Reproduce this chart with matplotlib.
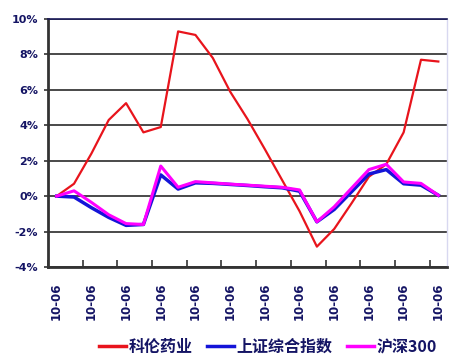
import matplotlib
matplotlib.use("Agg")
import matplotlib.pyplot as plt
import numpy as np

plt.rcParams['font.family'] = ['Noto Sans CJK SC', 'DejaVu Sans']

# ---- data (percent) ----
x_labels = ["10-06"] * 12
kelun = [0.0, 0.7, 2.4, 4.3, 5.25, 3.6, 3.9, 9.3, 9.1, 7.8, 5.9, 4.35,
         2.65, 0.9, -0.85, -2.85, -1.85, -0.4, 1.1, 1.8, 3.6, 7.7, 7.6]
shanghai = [0.0, -0.05, -0.65, -1.2, -1.65, -1.6, 1.2, 0.4, 0.75, 0.72, 0.66, 0.6,
            0.53, 0.47, 0.28, -1.45, -0.75, 0.25, 1.25, 1.5, 0.7, 0.62, 0.05]
hs300 = [0.0, 0.3, -0.35, -1.05, -1.55, -1.6, 1.7, 0.5, 0.82, 0.75, 0.68, 0.62,
         0.56, 0.5, 0.35, -1.45, -0.6, 0.45, 1.5, 1.8, 0.8, 0.72, 0.05]
series_names = ["科伦药业", "上证综合指数", "沪深300"]
y_ticks = [-4, -2, 0, 2, 4, 6, 8, 10]

navy = '#141464'

fig = plt.figure(figsize=(4.49, 3.54), dpi=100)
ax = fig.add_axes([48/449, 1-267/354, (447-48)/449, (267-19)/354])

xs = np.arange(len(kelun))
ax.plot(xs, kelun, color='#e8141c', lw=1.6, label=series_names[0], zorder=3)
ax.plot(xs, shanghai, color='#1414d8', lw=2.5, label=series_names[1], zorder=4)
ax.plot(xs, hs300, color='#ff00ff', lw=2.2, label=series_names[2], zorder=5)

ax.set_xlim(-0.5, len(kelun) - 0.5)
ax.set_ylim(-4, 10)

# gridlines
ax.set_yticks(y_ticks)
ax.set_yticklabels([f"{v}%" for v in y_ticks], fontsize=8, fontweight='bold',
                   color=navy, family='DejaVu Sans')
ax.yaxis.grid(True, color='#2a2a2a', lw=1.2)
ax.set_axisbelow(True)
ax.tick_params(axis='y', direction='out', length=3, width=1.2, color='#333333', pad=4)

# x: ticks at category boundaries, labels at every second category
ax.set_xticks(np.arange(-0.5, len(kelun) - 0.5, 2))
ax.set_xticklabels([])
ax.tick_params(axis='x', which='major', direction='in', length=5, width=1.2, color='#333333')
ax.set_xticks(np.arange(0, len(kelun), 2), minor=True)
ax.set_xticklabels(x_labels, minor=True, rotation=90, fontsize=8.5, fontweight='bold',
                   color=navy, family='DejaVu Sans')
ax.tick_params(axis='x', which='minor', length=0, pad=11)

for side in ['left', 'bottom']:
    ax.spines[side].set_color('#333333')
    ax.spines[side].set_linewidth(2)
ax.spines['top'].set_color('#1a1a5a')
ax.spines['top'].set_linewidth(1.2)
ax.spines['right'].set_color('#d8d8f0')
ax.spines['right'].set_linewidth(1)

leg = fig.legend(loc='center', bbox_to_anchor=(268/449, 1-347/354), ncol=3,
                 frameon=False, handlelength=1.7, handletextpad=0.15,
                 columnspacing=0.9, prop={'size': 11.5, 'weight': 'bold'})
for t in leg.get_texts():
    t.set_color(navy)
for h in leg.get_lines():
    h.set_linewidth(2.5)

fig.savefig("out.png", dpi=100, facecolor='white')
